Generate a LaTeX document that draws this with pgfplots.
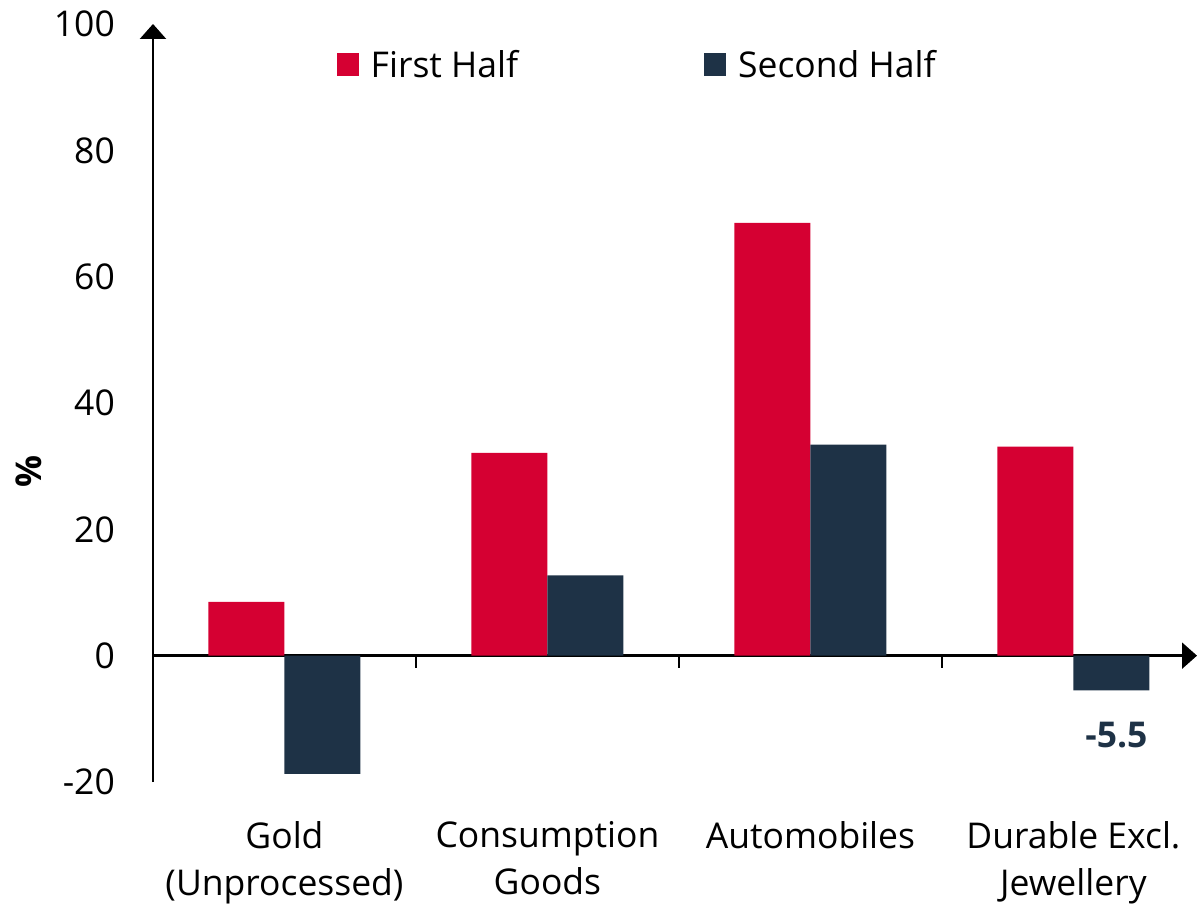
\documentclass[border=0pt]{standalone}
\usepackage{fontspec}
\setmainfont{Open Sans}
\usepackage{pgfplots}
\pgfplotsset{compat=1.18}
\usetikzlibrary{arrows.meta}
\definecolor{fhred}{HTML}{D50032}
\definecolor{shnavy}{HTML}{1E3246}
\pgfplotsset{sqleg/.style={legend image code/.code={\fill[##1] (0pt,-11.5pt) rectangle (22pt,11.5pt);}}}
\begin{document}
\begin{tikzpicture}
\begin{axis}[
  scale only axis, width=1044pt, height=758pt,
  xmin=-0.5, xmax=3.47, ymin=-20, ymax=100,
  axis y line=left, axis x line=middle,
  clip=false,
  ybar=0pt, bar width=76pt,
  axis line style={line width=2.5pt, black},
  x axis line style={-{Triangle[width=26pt,length=15pt]}},
  y axis line style={-{Triangle[width=26pt,length=15pt]}},
  xtick={0,1,2,3},
  xticklabels={{Gold\\(Unprocessed)},{Consumption\\Goods},{Automobiles},{Durable Excl.\\Jewellery}},
  minor xtick={0.5,1.5,2.5},
  xtick align=outside,
  major tick length=0pt,
  minor tick length=12pt,
  minor x tick style={line width=2pt, black},
  major x tick style={draw=none},
  ytick={-20,0,20,40,60,80,100},
  ytick style={draw=none},
  hide obscured x ticks=false,
  tick label style={font=\fontsize{35.5}{47}\selectfont},
  xticklabel style={align=center, anchor=north, inner sep=0pt, yshift=-166pt},
  yticklabel style={anchor=east, inner sep=0pt, xshift=-38pt},
  /pgf/number format/assume math mode=true,
  ylabel={\bfseries \%},
  ylabel style={at={(axis description cs:-0.119,0.41)}, anchor=center, rotate=0, font=\fontsize{35.5}{47}\selectfont},
  legend columns=2,
  legend style={at={(axis description cs:0.176,0.9466)}, anchor=west, draw=none, fill=none,
    inner sep=0pt, outer sep=0pt, nodes={inner sep=0pt},
    font=\fontsize{35.5}{47}\selectfont,
    /tikz/every odd column/.append style={column sep=12pt},
    /tikz/every even column/.append style={column sep=186pt}},
]
\addplot[fill=fhred, draw=none, sqleg]
  coordinates {(0,8.5) (1,32.1) (2,68.5) (3,33.1)};
\addlegendentry{First Half}
\addplot[fill=shnavy, draw=none, sqleg]
  coordinates {(0,-18.7) (1,12.7) (2,33.4) (3,-5.5)};
\addlegendentry{Second Half}
\node[anchor=north, inner sep=0pt, text=shnavy, font=\fontsize{35.5}{47}\selectfont\bfseries, xshift=43pt, yshift=-32pt] at (axis cs:3,-5.5) {-5.5};
\end{axis}
\pgfresetboundingbox
\path (-153pt,-126pt) rectangle (1045pt,782pt);
\end{tikzpicture}
\end{document}
